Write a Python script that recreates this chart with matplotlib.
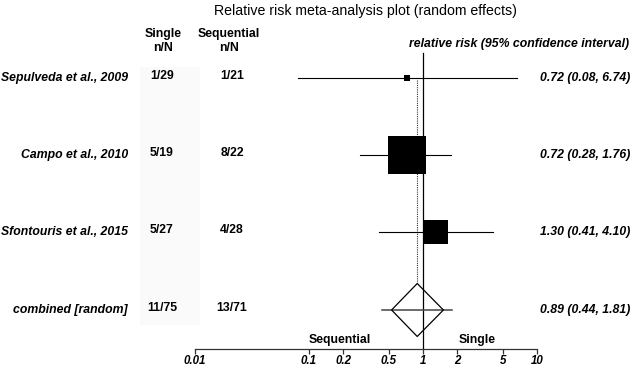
import numpy as np
import matplotlib
matplotlib.use("Agg")
import matplotlib.pyplot as plt
from matplotlib.patches import Polygon, Rectangle
from matplotlib.transforms import blended_transform_factory

# ---- data ----
studies = ["Sepulveda et al., 2009", "Campo et al., 2010", "Sfontouris et al., 2015"]
single_nN = ["1/29", "5/19", "5/27"]
sequential_nN = ["1/21", "8/22", "4/28"]
rr = [0.72, 0.72, 1.30]
ci_low = [0.08, 0.28, 0.41]
ci_high = [6.74, 1.76, 4.10]
weights = [2.3, 68.2, 29.5]  # percent, square area

combined_label = "combined [random]"
combined_single = "11/75"
combined_seq = "13/71"
combined_rr = 0.89
combined_low = 0.44
combined_high = 1.81
diamond_low = 0.53
diamond_high = 1.51

tick_values = [0.01, 0.1, 0.2, 0.5, 1, 2, 5, 10]
tick_labels = ["0.01", "0.1", "0.2", "0.5", "1", "2", "5", "10"]

# ---- layout ----
W, H = 633, 367
DPI = 100
fig = plt.figure(figsize=(W / DPI, H / DPI), dpi=DPI)
FONT = "Liberation Sans"
FS = 8.8

px_decade = 114.0
x_one = 423.0
x0_axis = 195.0
xlim = (10 ** (-x_one / px_decade), 10 ** ((W - x_one) / px_decade))

ax = fig.add_axes([0, 0, 1, 1])
ax.set_xscale("log")
ax.set_xlim(*xlim)
ax.set_ylim(H, 0)
ax.axis("off")

row_y = [78, 155, 232]
comb_y = 310
tx = blended_transform_factory(ax.transAxes, ax.transData)

def fx(px):
    return px / W

# shading behind Single column
ax.add_patch(Rectangle((fx(140), 67), fx(60), 258, transform=tx,
                       facecolor="#fafafa", edgecolor="none", zorder=0))

# title
ax.text(fx(365), 11, "Relative risk meta-analysis plot (random effects)", transform=tx,
        ha="center", va="center", fontsize=10.2, family=FONT)

# column headers
ax.text(fx(163), 41, "Single\nn/N", transform=tx, ha="center", va="center",
        fontsize=FS, fontweight="bold", family=FONT, linespacing=1.3)
ax.text(fx(229), 41, "Sequential\nn/N", transform=tx, ha="center", va="center",
        fontsize=FS, fontweight="bold", family=FONT, linespacing=1.3)
ax.text(fx(629), 44, "relative risk (95% confidence interval)", transform=tx,
        ha="right", va="center", fontsize=FS, fontweight="bold", style="italic", family=FONT)

# rows
for i, name in enumerate(studies):
    y = row_y[i]
    ax.text(fx(128), y, name, transform=tx, ha="right", va="center",
            fontsize=FS, fontweight="bold", style="italic", family=FONT)
    ax.text(fx(162), y - 2, single_nN[i], transform=tx, ha="center", va="center",
            fontsize=FS, fontweight="bold", family=FONT)
    ax.text(fx(232), y - 2, sequential_nN[i], transform=tx, ha="center", va="center",
            fontsize=FS, fontweight="bold", family=FONT)
    ax.text(fx(630), y, f"{rr[i]:.2f} ({ci_low[i]:.2f}, {ci_high[i]:.2f})", transform=tx,
            ha="right", va="center", fontsize=FS, fontweight="bold", style="italic", family=FONT)
    ax.plot([ci_low[i], ci_high[i]], [y, y], color="black", lw=0.8, zorder=2)
    side_px = 46 * np.sqrt(weights[i] / 100)
    ax.plot([rr[i]], [y], marker="s", markersize=side_px * 72 / DPI, color="black",
            markeredgewidth=0, zorder=3, linestyle="none")

# combined row
ax.text(fx(128), comb_y, combined_label, transform=tx, ha="right", va="center",
        fontsize=FS, fontweight="bold", style="italic", family=FONT)
ax.text(fx(162), comb_y - 2, combined_single, transform=tx, ha="center", va="center",
        fontsize=FS, fontweight="bold", family=FONT)
ax.text(fx(232), comb_y - 2, combined_seq, transform=tx, ha="center", va="center",
        fontsize=FS, fontweight="bold", family=FONT)
ax.text(fx(630), comb_y, f"{combined_rr:.2f} ({combined_low:.2f}, {combined_high:.2f})",
        transform=tx, ha="right", va="center", fontsize=FS, fontweight="bold",
        style="italic", family=FONT)
ax.plot([combined_low, combined_high], [comb_y, comb_y], color="#444444", lw=1.1, zorder=2)
hh = 26.5
ax.add_patch(Polygon([(diamond_low, comb_y), (combined_rr, comb_y - hh),
                      (diamond_high, comb_y), (combined_rr, comb_y + hh)],
                     closed=True, facecolor="none", edgecolor="black", lw=0.9, zorder=3))

# reference lines
ax.plot([1, 1], [53, 349], color="black", lw=0.9, zorder=1)
ax.plot([combined_rr, combined_rr], [80, comb_y - hh], color="#333333", lw=0.8,
        linestyle=(0, (1, 1)), zorder=1)

# direction labels
ax.text(fx(340), 340, "Sequential", transform=tx, ha="center", va="center",
        fontsize=FS, fontweight="bold", family=FONT)
ax.text(fx(477), 340, "Single", transform=tx, ha="center", va="center",
        fontsize=FS, fontweight="bold", family=FONT)

# bottom axis
axb = fig.add_axes([x0_axis / W, (H - 349) / H, (537 - x0_axis) / W, 1e-4])
axb.set_xscale("log")
axb.set_xlim(tick_values[0], tick_values[-1])
axb.set_xticks(tick_values)
axb.set_xticklabels(tick_labels)
axb.xaxis.set_minor_locator(matplotlib.ticker.NullLocator())
axb.set_yticks([])
for s in ["top", "left", "right"]:
    axb.spines[s].set_visible(False)
axb.spines["bottom"].set_color("#333333")
axb.spines["bottom"].set_linewidth(0.9)
axb.patch.set_alpha(0)
axb.tick_params(axis="x", direction="out", length=3.5, width=0.9, color="#333333", pad=0.5)
for lab in axb.get_xticklabels():
    lab.set_fontfamily(FONT)
    lab.set_fontweight("bold")
    lab.set_fontstyle("italic")
    lab.set_fontsize(8.3)

fig.savefig("out.png", dpi=DPI)
